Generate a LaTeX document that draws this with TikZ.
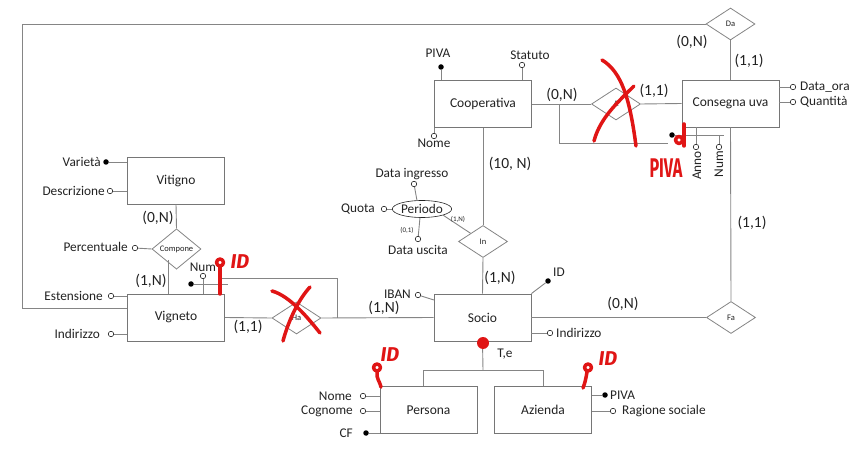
\documentclass[tikz,border=0pt]{standalone}
\usepackage{fontspec}
\setmainfont{Carlito}
\newfontfamily\handfont{Fira Sans}
\usetikzlibrary{shapes.geometric}
\definecolor{linec}{HTML}{858585}
\definecolor{boxc}{HTML}{767676}
\definecolor{txt}{HTML}{222222}
\definecolor{redpen}{HTML}{E01515}
\begin{document}
\begin{tikzpicture}[x=1pt,y=-1pt,
  ent/.style={draw=boxc,line width=0.9pt,fill=white,minimum width=97pt,minimum height=47pt,inner sep=0pt,text=txt,font=\fontsize{13.5}{15}\selectfont},
  rel/.style={draw=linec,line width=0.8pt,diamond,fill=white,minimum width=49pt,minimum height=32pt,inner sep=0pt,text=txt,font=\fontsize{8.5}{9}\selectfont},
  ln/.style={draw=linec,line width=0.9pt},
  oc/.style={circle,draw=txt,fill=white,line width=0.6pt,minimum size=5.5pt,inner sep=0pt},
  dc/.style={circle,fill=black,minimum size=5.5pt,inner sep=0pt},
  attr/.style={inner sep=0pt,text=txt,font=\fontsize{13.3}{15}\selectfont},
  card/.style={inner sep=0pt,text=txt,font=\fontsize{15.5}{17}\selectfont},
  tiny/.style={inner sep=0pt,text=txt,font=\fontsize{7}{8}\selectfont},
  pen/.style={draw=redpen,line width=3.5pt,line cap=round,line join=round},
  hand/.style={inner sep=0pt,text=redpen,font=\handfont\bfseries\itshape}]
\useasboundingbox (0,0) rectangle (862,454);

% ---------------- entities
\node[ent] (coop) at (483,104) {Cooperativa};
\node[ent] (cons) at (730.5,103.5) {Consegna uva};
\node[ent] (vit) at (176,180.5) {Vitigno};
\node[ent] (vig) at (176,317.5) {Vigneto};
\node[ent] (soc) at (482.5,317.5) {Socio};
\node[ent] (pers) at (428.5,410) {Persona};
\node[ent] (az) at (543,410) {Azienda};

% ---------------- relationships
\node[rel] (da) at (730.5,24) {Da};
\node[rel] (aa) at (616,104) {A};
\node[rel] (inr) at (483,241.5) {In};
\node[rel] (comp) at (176.5,249) {Compone};
\node[rel] (ha) at (296.5,318) {Ha};
\node[rel] (fa) at (731,317.5) {Fa};
\node[ellipse,draw=txt,line width=0.6pt,minimum width=58pt,minimum height=17pt,inner sep=0pt,text=txt,font=\fontsize{13.3}{15}\selectfont] (per) at (422,209) {Periodo};

% ---------------- main connectors
\coordinate (fr1) at (22,24);
\coordinate (fr2) at (22,308);
\draw[ln] (da.west) -- (fr1) -- (fr2) -- (vig.west |- fr2);
\draw[ln] (da.south) -- (cons.north);
\draw[ln] (coop.east) -- (aa.west);
\draw[ln] (aa.east) -- (cons.west);
\coordinate (lp1) at (559,104);
\coordinate (lp2) at (559,143);
\coordinate (lp3) at (668,143);
\draw[ln] (lp1) -- (lp2) -- (lp3);
\draw[ln] (cons.south) -- (fa.north);
\draw[ln] (soc.east) -- (fa.west);
\draw[ln] (coop.south) -- (inr.north);
\draw[ln] (inr.south) -- (soc.north);
\draw[ln] (per.south east) -- (inr.north west);
\draw[ln] (vit.south) -- (comp.north);
\coordinate (cv1) at (168,260);
\draw[ln] (cv1) -- (vig.north -| cv1);
\draw[ln] (vig.east) -- (ha.west);
\draw[ln] (ha.east) -- (soc.west);
\coordinate (hl1) at (222,278);
\coordinate (hl2) at (337,278);
\coordinate (hl3) at (337,318);
\draw[ln] (hl1) -- (hl2) -- (hl3);
% hierarchy
\coordinate (h0) at (483,370);
\coordinate (hL) at (423,370);
\coordinate (hR) at (543,370);
\draw[ln] (soc.south) -- (h0);
\draw[ln] (hL) -- (hR);
\draw[ln] (hL) -- (pers.north -| hL);
\draw[ln] (hR) -- (az.north -| hR);

% ---------------- attributes: Cooperativa
\node[dc] (cpiva) at (441,67) {};
\draw[ln] (cpiva) -- (coop.north -| cpiva);
\node[attr] at (438,53) {PIVA};
\node[oc] (cstat) at (522,65) {};
\draw[ln] (cstat) -- (coop.north -| cstat);
\node[attr] at (530,55) {Statuto};
\node[oc] (cnome) at (434,136) {};
\draw[ln] (cnome) -- (coop.south -| cnome);
\node[attr] at (434,143.5) {Nome};

% Consegna uva
\node[oc] (cdata) at (793,87) {};
\draw[ln] (cdata) -- (cons.east |- cdata);
\node[attr,anchor=west] at (800,87) {Data\_ora};
\node[oc] (cquan) at (793,102) {};
\draw[ln] (cquan) -- (cons.east |- cquan);
\node[attr,anchor=west] at (800,102) {Quantità};
\node[dc] (cid) at (672,135) {};
\coordinate (cidE) at (724,135);
\draw[ln] (cid) -- (cidE);
\node[oc] (canno) at (696,147) {};
\draw[ln] (canno) -- (cons.south -| canno);
\node[oc] (cnum) at (719,147) {};
\draw[ln] (cnum) -- (cidE -| cnum);
\node[attr,rotate=90,anchor=east] at (697,151) {Anno};
\node[attr,rotate=90,anchor=east] at (719,151) {Num};

% Periodo
\node[oc] (pq) at (384,209) {};
\draw[ln] (pq) -- (per.west);
\node[attr,anchor=east] at (375,209) {Quota};
\node[oc] (pdi) at (414,184) {};
\coordinate (pdiE) at (417,200.6);
\draw[ln] (pdi) -- (pdiE);
\node[attr] at (412,174) {Data ingresso};
\node[oc] (pdu) at (418,239) {};
\coordinate (pduE) at (420,217.4);
\draw[ln] (pdu) -- (pduE);
\node[attr] at (418,250) {Data uscita};
\node[tiny] at (407,230) {(0,1)};
\node[tiny] at (458,219) {(1,N)};

% Vitigno
\node[dc] (vvar) at (106,162) {};
\draw[ln] (vvar) -- (vit.west |- vvar);
\node[attr,anchor=east] at (101,162) {Varietà};
\node[oc] (vdes) at (110,191) {};
\draw[ln] (vdes) -- (vit.west |- vdes);
\node[attr,anchor=east] at (105,191) {Descrizione};
\node[oc] (cperc) at (135,248) {};
\draw[ln] (cperc) -- (comp.west);
\node[attr,anchor=east] at (128,247) {Percentuale};

% Vigneto
\node[oc] (gest) at (111,296) {};
\draw[ln] (gest) -- (vig.west |- gest);
\node[attr,anchor=east] at (103,296) {Estensione};
\node[oc] (gind) at (111,334) {};
\draw[ln] (gind) -- (vig.west |- gind);
\node[attr,anchor=east] at (100,334) {Indirizzo};
\node[dc] (gid) at (191,284) {};
\coordinate (gidE) at (228,284);
\draw[ln] (gid) -- (gidE);
\node[oc] (gnum) at (203,276) {};
\draw[ln] (gnum) -- (vig.north -| gnum);
\node[attr] at (203,267) {Num};

% Socio
\node[oc] (siban) at (418,295) {};
\coordinate (sibanE) at (434,300);
\draw[ln] (siban) -- (sibanE);
\node[attr,anchor=east] at (411,294) {IBAN};
\node[dc] (sid) at (548,281) {};
\draw[ln] (sid) -- (soc.north east);
\node[attr,anchor=west] at (553,272) {ID};
\node[oc] (sind) at (550,333) {};
\draw[ln] (sind) -- (soc.east |- sind);
\node[attr,anchor=west] at (556,333) {Indirizzo};
\node[attr] at (505,354) {T,e};

% Persona
\node[oc] (pnome) at (363,396) {};
\draw[ln] (pnome) -- (pers.west |- pnome);
\node[attr,anchor=east] at (352,396) {Nome};
\node[oc] (pcog) at (363,411) {};
\draw[ln] (pcog) -- (pers.west |- pcog);
\node[attr,anchor=east] at (353,411) {Cognome};
\node[dc] (pcf) at (366,433) {};
\draw[ln] (pcf) -- (pers.west |- pcf);
\node[attr,anchor=east] at (353,433) {CF};

% Azienda
\node[dc] (apiva) at (605,395) {};
\draw[ln] (apiva) -- (az.east |- apiva);
\node[attr,anchor=west] at (610,395) {PIVA};
\node[oc] (arag) at (613,411) {};
\draw[ln] (arag) -- (az.east |- arag);
\node[attr,anchor=west] at (622,411) {Ragione sociale};

% ---------------- cardinalities
\node[card] at (692,42) {(0,N)};
\node[card] at (749,61) {(1,1)};
\node[card] at (562,95) {(0,N)};
\node[card] at (654,91) {(1,1)};
\node[card] at (510,164) {(10, N)};
\node[card] at (500,278) {(1,N)};
\node[card] at (752,223) {(1,1)};
\node[card] at (623,304) {(0,N)};
\node[card] at (158,218) {(0,N)};
\node[card] at (151,281) {(1,N)};
\node[card] at (248,327) {(1,1)};
\node[card] at (384,308) {(1,N)};

% ---------------- red hand annotations
\draw[pen] (602,60) .. controls (622,72) and (630,100) .. (636,146);
\draw[pen] (594,141) .. controls (600,118) and (618,102) .. (634,86);
\draw[pen] (684,124) -- (684,146);
\draw[pen] (679,140) circle (3.5);
\node[hand,font=\handfont\bfseries\fontsize{27}{27}\selectfont] at (666,168) {\scalebox{0.6}[1]{PIVA}};
\draw[pen] (272,291) .. controls (290,296) and (308,318) .. (320,333);
\draw[pen] (310,287) .. controls (298,300) and (288,322) .. (283,341);
\draw[pen] (220,267) -- (220,294);
\draw[pen] (220,262.5) circle (3.5);
\node[hand,font=\handfont\bfseries\itshape\fontsize{20}{20}\selectfont] at (240,262) {ID};
\fill[redpen] (483,343) circle (6);
\draw[pen] (377,372) .. controls (376,378) and (380,382) .. (381,387);
\draw[pen] (377,367.5) circle (3.5);
\node[hand,font=\handfont\bfseries\itshape\fontsize{20}{20}\selectfont] at (390,355) {ID};
\draw[pen] (587,372) .. controls (586,378) and (585,383) .. (583,388);
\draw[pen] (588,367.5) circle (3.5);
\node[hand,font=\handfont\bfseries\itshape\fontsize{20}{20}\selectfont] at (608,359) {ID};
\end{tikzpicture}
\end{document}
